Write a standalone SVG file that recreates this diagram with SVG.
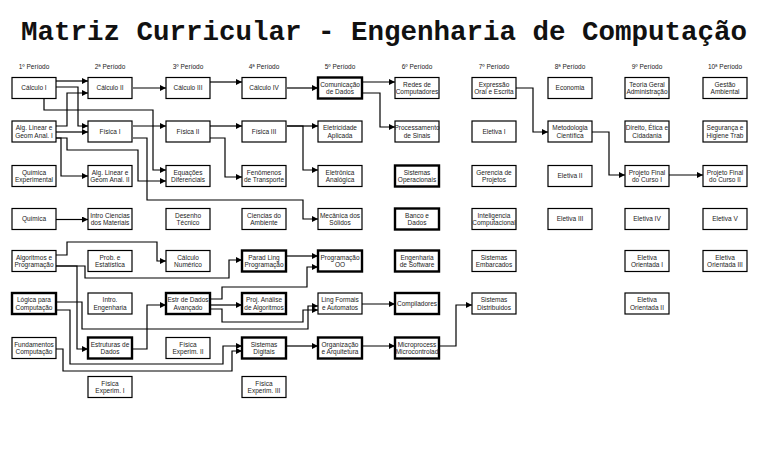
<svg xmlns="http://www.w3.org/2000/svg" width="768" height="467" viewBox="0 0 768 467">
<style>
.t{font-family:"Liberation Mono","Courier New",monospace;font-size:27.5px;font-weight:bold;fill:#111}
.h{font-family:"Liberation Sans",Arial,sans-serif;font-size:6.5px;fill:#222;text-anchor:middle}
.n rect{fill:#fff;stroke:#000;stroke-width:1.2}
.n.b rect{stroke-width:2.4}
.n text{font-family:"Liberation Sans",Arial,sans-serif;font-size:6.5px;fill:#222;text-anchor:middle}
#edges polyline{fill:none;stroke:#000;stroke-width:1.2;marker-end:url(#a)}
</style>
<defs>
<marker id="a" markerUnits="userSpaceOnUse" markerWidth="6" markerHeight="6" refX="6" refY="3" orient="auto"><path d="M0,0 L6,3 L0,6 z" fill="#000"/></marker>
</defs>
<rect width="768" height="467" fill="#fff"/>
<text class="t" x="384" y="40" text-anchor="middle">Matriz Curricular - Engenharia de Computação</text>
<g id="headers">
<text class="h" x="34" y="69">1º Período</text>
<text class="h" x="110" y="69">2ª Período</text>
<text class="h" x="188" y="69">3º Período</text>
<text class="h" x="264" y="69">4ª Período</text>
<text class="h" x="340" y="69">5º Período</text>
<text class="h" x="417" y="69">6º Período</text>
<text class="h" x="494" y="69">7º Período</text>
<text class="h" x="570" y="69">8ª Período</text>
<text class="h" x="647" y="69">9º Período</text>
<text class="h" x="725" y="69">10ª Período</text>
</g>
<g id="edges">
<polyline points="56,81 88,81"/>
<polyline points="56,87 78,87 78,126 88,126"/>
<polyline points="44,98 44,110 153,110 153,170 166,170"/>
<polyline points="56,126 67,126 67,93 88,93"/>
<polyline points="56,132 88,132"/>
<polyline points="56,138 67,138 67,150 138,150 138,181 166,181"/>
<polyline points="56,138 61,138 61,176 88,176"/>
<polyline points="133,88 166,88"/>
<polyline points="133,126 166,126"/>
<polyline points="133,138 147,138 147,200 303,200 303,219 318,219"/>
<polyline points="56,219.5 88,219.5"/>
<polyline points="56,255 67,255 67,242 157,242 157,261 166,261"/>
<polyline points="56,266 85,266 85,278 229,278 229,260 242,260"/>
<polyline points="56,266 77,266 77,349 88,349"/>
<polyline points="56,302 82,302 82,329 308,329 308,306 318,306"/>
<polyline points="56,310 70,310 70,364 223,364 223,346 242,346"/>
<polyline points="56,349 63,349 63,371 232,371 232,351 242,351"/>
<polyline points="133,349 147,349 147,305 166,305"/>
<polyline points="210,82 242,82"/>
<polyline points="210,126 242,126"/>
<polyline points="210,138 225,138 225,177 242,177"/>
<polyline points="210,305 242,305"/>
<polyline points="210,299 222,299 222,287 307,287 307,267 318,267"/>
<polyline points="210,309 222,309 222,322 303,322 303,310 318,310"/>
<polyline points="287,88 318,88"/>
<polyline points="287,126 318,126"/>
<polyline points="287,126 303,126 303,170 318,170"/>
<polyline points="287,256 318,256"/>
<polyline points="287,346 318,346"/>
<polyline points="362,82 395,82"/>
<polyline points="362,93 380,93 380,127 395,127"/>
<polyline points="362,304 395,304"/>
<polyline points="362,346 395,346"/>
<polyline points="439,346 456,346 456,305 472,305"/>
<polyline points="515,88 533,88 533,132 548,132"/>
<polyline points="592,132 609,132 609,175 625,175"/>
<polyline points="668,175 703,175"/>
</g>
<g id="calculo1" class="n"><rect x="12" y="77.5" width="44" height="21"/><text x="34" y="90.3">Cálculo I</text></g>
<g id="alglinear1" class="n"><rect x="12" y="121" width="44" height="21"/><text x="34" y="130">Alg. Linear e</text><text x="34" y="137.5">Geom Anal. I</text></g>
<g id="quimicaexp" class="n"><rect x="12" y="165.5" width="44" height="21"/><text x="34" y="174.5">Química</text><text x="34" y="182">Experimental</text></g>
<g id="quimica" class="n"><rect x="12" y="208.5" width="44" height="21"/><text x="34" y="221.3">Química</text></g>
<g id="algoritmos" class="n"><rect x="12" y="250.5" width="44" height="21"/><text x="34" y="259.5">Algoritmos e</text><text x="34" y="267">Programação</text></g>
<g id="logica" class="n b"><rect x="12" y="293" width="44" height="21"/><text x="34" y="302">Lógica para</text><text x="34" y="309.5">Computação</text></g>
<g id="fundamentos" class="n"><rect x="12" y="337.5" width="44" height="21"/><text x="34" y="346.5">Fundamentos</text><text x="34" y="354">Computação</text></g>

<g id="calculo2" class="n"><rect x="88" y="77.5" width="44" height="21"/><text x="110" y="90.3">Cálculo II</text></g>
<g id="fisica1" class="n"><rect x="88" y="121" width="44" height="21"/><text x="110" y="133.8">Física I</text></g>
<g id="alglinear2" class="n"><rect x="88" y="165.5" width="44" height="21"/><text x="110" y="174.5">Alg. Linear e</text><text x="110" y="182">Geom Anal. II</text></g>
<g id="introciencias" class="n"><rect x="88" y="208.5" width="44" height="21"/><text x="110" y="217.5">Intro Ciencias</text><text x="110" y="225">dos Materiais</text></g>
<g id="prob" class="n"><rect x="88" y="250.5" width="44" height="21"/><text x="110" y="259.5">Prob. e</text><text x="110" y="267">Estatística</text></g>
<g id="introeng" class="n"><rect x="88" y="293" width="44" height="21"/><text x="110" y="302">Intro.</text><text x="110" y="309.5">Engenharia</text></g>
<g id="estruturas" class="n b"><rect x="88" y="337.5" width="44" height="21"/><text x="110" y="346.5">Estruturas de</text><text x="110" y="354">Dados</text></g>
<g id="fisexp1" class="n"><rect x="88" y="376.5" width="44" height="21"/><text x="110" y="385.5">Física</text><text x="110" y="393">Experim. I</text></g>

<g id="calculo3" class="n"><rect x="166" y="77.5" width="44" height="21"/><text x="188" y="90.3">Cálculo III</text></g>
<g id="fisica2" class="n"><rect x="166" y="121" width="44" height="21"/><text x="188" y="133.8">Física II</text></g>
<g id="equacoes" class="n"><rect x="166" y="165.5" width="44" height="21"/><text x="188" y="174.5">Equações</text><text x="188" y="182">Diferenciais</text></g>
<g id="desenho" class="n"><rect x="166" y="208.5" width="44" height="21"/><text x="188" y="217.5">Desenho</text><text x="188" y="225">Técnico</text></g>
<g id="calcnum" class="n"><rect x="166" y="250.5" width="44" height="21"/><text x="188" y="259.5">Cálculo</text><text x="188" y="267">Numérico</text></g>
<g id="estravanc" class="n b"><rect x="166" y="293" width="44" height="21"/><text x="188" y="302">Estr de Dados</text><text x="188" y="309.5">Avançado</text></g>
<g id="fisexp2" class="n"><rect x="166" y="337.5" width="44" height="21"/><text x="188" y="346.5">Física</text><text x="188" y="354">Experim. II</text></g>

<g id="calculo4" class="n"><rect x="242" y="77.5" width="44" height="21"/><text x="264" y="90.3">Cálculo IV</text></g>
<g id="fisica3" class="n"><rect x="242" y="121" width="44" height="21"/><text x="264" y="133.8">Física III</text></g>
<g id="fenomenos" class="n"><rect x="242" y="165.5" width="44" height="21"/><text x="264" y="174.5">Fenômenos</text><text x="264" y="182">de Transporte</text></g>
<g id="cienciasamb" class="n"><rect x="242" y="208.5" width="44" height="21"/><text x="264" y="217.5">Ciencias do</text><text x="264" y="225">Ambiente</text></g>
<g id="paradling" class="n b"><rect x="242" y="250.5" width="44" height="21"/><text x="264" y="259.5">Parad Ling</text><text x="264" y="267">Programação</text></g>
<g id="projanalise" class="n b"><rect x="242" y="293" width="44" height="21"/><text x="264" y="302">Proj. Análise</text><text x="264" y="309.5">de Algoritmos</text></g>
<g id="sisdigitais" class="n b"><rect x="242" y="337.5" width="44" height="21"/><text x="264" y="346.5">Sistemas</text><text x="264" y="354">Digitais</text></g>
<g id="fisexp3" class="n"><rect x="242" y="376.5" width="44" height="21"/><text x="264" y="385.5">Física</text><text x="264" y="393">Experim. III</text></g>

<g id="comunicacao" class="n b"><rect x="318" y="77.5" width="44" height="21"/><text x="340" y="86.5">Comunicação</text><text x="340" y="94">de Dados</text></g>
<g id="eletricidade" class="n"><rect x="318" y="121" width="44" height="21"/><text x="340" y="130">Eletricidade</text><text x="340" y="137.5">Aplicada</text></g>
<g id="eletronica" class="n"><rect x="318" y="165.5" width="44" height="21"/><text x="340" y="174.5">Eletrônica</text><text x="340" y="182">Analógica</text></g>
<g id="mecanica" class="n"><rect x="318" y="208.5" width="44" height="21"/><text x="340" y="217.5">Mecânica dos</text><text x="340" y="225">Sólidos</text></g>
<g id="progoo" class="n b"><rect x="318" y="250.5" width="44" height="21"/><text x="340" y="259.5">Programação</text><text x="340" y="267">OO</text></g>
<g id="lingformais" class="n"><rect x="318" y="293" width="44" height="21"/><text x="340" y="302">Ling Formais</text><text x="340" y="309.5">e Automatos</text></g>
<g id="organizacao" class="n b"><rect x="318" y="337.5" width="44" height="21"/><text x="340" y="346.5">Organização</text><text x="340" y="354">e Arquitetura</text></g>

<g id="redes" class="n"><rect x="395" y="77.5" width="44" height="21"/><text x="417" y="86.5">Redes de</text><text x="417" y="94">Computadores</text></g>
<g id="processamento" class="n"><rect x="395" y="121" width="44" height="21"/><text x="417" y="130">Processamento</text><text x="417" y="137.5">de Sinais</text></g>
<g id="sisop" class="n b"><rect x="395" y="165.5" width="44" height="21"/><text x="417" y="174.5">Sistemas</text><text x="417" y="182">Operacionais</text></g>
<g id="banco" class="n b"><rect x="395" y="208.5" width="44" height="21"/><text x="417" y="217.5">Banco e</text><text x="417" y="225">Dados</text></g>
<g id="engsoft" class="n b"><rect x="395" y="250.5" width="44" height="21"/><text x="417" y="259.5">Engenharia</text><text x="417" y="267">de Software</text></g>
<g id="compiladores" class="n b"><rect x="395" y="293" width="44" height="21"/><text x="417" y="305.8">Compiladores</text></g>
<g id="microprocess" class="n b"><rect x="395" y="337.5" width="44" height="21"/><text x="417" y="346.5">Microprocess</text><text x="417" y="354">Microcontrolad</text></g>

<g id="expressao" class="n"><rect x="472" y="77.5" width="44" height="21"/><text x="494" y="86.5">Expressão</text><text x="494" y="94">Oral e Escrita</text></g>
<g id="eletiva1" class="n"><rect x="472" y="121" width="44" height="21"/><text x="494" y="133.8">Eletiva I</text></g>
<g id="gerencia" class="n"><rect x="472" y="165.5" width="44" height="21"/><text x="494" y="174.5">Gerencia de</text><text x="494" y="182">Projetos</text></g>
<g id="inteligencia" class="n"><rect x="472" y="208.5" width="44" height="21"/><text x="494" y="217.5">Inteligencia</text><text x="494" y="225">Computacional</text></g>
<g id="sisembarcados" class="n"><rect x="472" y="250.5" width="44" height="21"/><text x="494" y="259.5">Sistemas</text><text x="494" y="267">Embarcados</text></g>
<g id="sisdistribuidos" class="n"><rect x="472" y="293" width="44" height="21"/><text x="494" y="302">Sistemas</text><text x="494" y="309.5">Distribuidos</text></g>

<g id="economia" class="n"><rect x="548" y="77.5" width="44" height="21"/><text x="570" y="90.3">Economia</text></g>
<g id="metodologia" class="n"><rect x="548" y="121" width="44" height="21"/><text x="570" y="130">Metodologia</text><text x="570" y="137.5">Científica</text></g>
<g id="eletiva2" class="n"><rect x="548" y="165.5" width="44" height="21"/><text x="570" y="178.3">Eletiva II</text></g>
<g id="eletiva3" class="n"><rect x="548" y="208.5" width="44" height="21"/><text x="570" y="221.3">Eletiva III</text></g>

<g id="teoriageral" class="n"><rect x="625" y="77.5" width="44" height="21"/><text x="647" y="86.5">Teoria Geral</text><text x="647" y="94">Administração</text></g>
<g id="direito" class="n"><rect x="625" y="121" width="44" height="21"/><text x="647" y="130">Direito, Ética e</text><text x="647" y="137.5">Cidadania</text></g>
<g id="projfinal1" class="n"><rect x="625" y="165.5" width="44" height="21"/><text x="647" y="174.5">Projeto Final</text><text x="647" y="182">do Curso I</text></g>
<g id="eletiva4" class="n"><rect x="625" y="208.5" width="44" height="21"/><text x="647" y="221.3">Eletiva IV</text></g>
<g id="eletor1" class="n"><rect x="625" y="250.5" width="44" height="21"/><text x="647" y="259.5">Eletiva</text><text x="647" y="267">Orientada I</text></g>
<g id="eletor2" class="n"><rect x="625" y="293" width="44" height="21"/><text x="647" y="302">Eletiva</text><text x="647" y="309.5">Orientada II</text></g>

<g id="gestao" class="n"><rect x="703" y="77.5" width="44" height="21"/><text x="725" y="86.5">Gestão</text><text x="725" y="94">Ambiental</text></g>
<g id="seguranca" class="n"><rect x="703" y="121" width="44" height="21"/><text x="725" y="130">Segurança e</text><text x="725" y="137.5">Higiene Trab</text></g>
<g id="projfinal2" class="n"><rect x="703" y="165.5" width="44" height="21"/><text x="725" y="174.5">Projeto Final</text><text x="725" y="182">do Curso II</text></g>
<g id="eletiva5" class="n"><rect x="703" y="208.5" width="44" height="21"/><text x="725" y="221.3">Eletiva V</text></g>
<g id="eletor3" class="n"><rect x="703" y="250.5" width="44" height="21"/><text x="725" y="259.5">Eletiva</text><text x="725" y="267">Orientada III</text></g>
</svg>
